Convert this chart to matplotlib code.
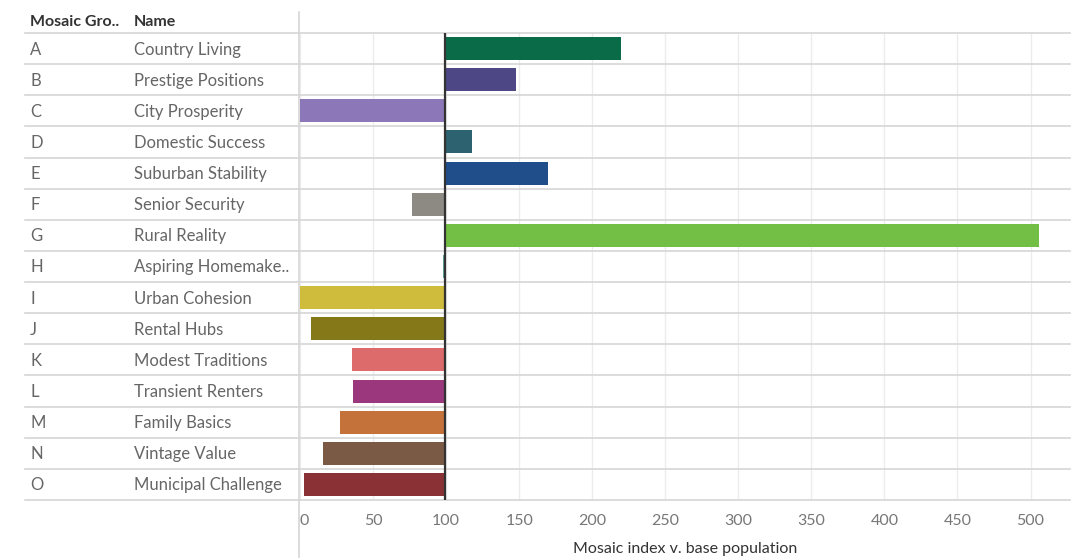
import matplotlib.pyplot as plt
from matplotlib.lines import Line2D
import matplotlib.transforms as mtransforms

# data
groups = ['A', 'B', 'C', 'D', 'E', 'F', 'G', 'H', 'I', 'J', 'K', 'L', 'M', 'N', 'O']
names = ['Country Living', 'Prestige Positions', 'City Prosperity', 'Domestic Success',
         'Suburban Stability', 'Senior Security', 'Rural Reality', 'Aspiring Homemake..',
         'Urban Cohesion', 'Rental Hubs', 'Modest Traditions', 'Transient Renters',
         'Family Basics', 'Vintage Value', 'Municipal Challenge']
index_values = [220, 147.5, 0.3, 117.5, 170, 76.5, 505.5, 97.6, 0.3, 7.3, 35.4, 36, 27.1, 15.5, 2.7]
colors = ['#0a6b48', '#4e4785', '#8c77b8', '#2d6270', '#1f4e8a', '#8c8a82', '#73bf45', '#5fa8a0',
          '#cfbc3c', '#857819', '#dd6b6b', '#9b387d', '#c47239', '#7a5a44', '#8a3136']
ticks = [0, 50, 100, 150, 200, 250, 300, 350, 400, 450, 500]
baseline = 100

plt.rcParams['font.family'] = ['Lato', 'DejaVu Sans']

W, H = 1078, 558
fig = plt.figure(figsize=(W / 100, H / 100), dpi=100)
ax_l, ax_r, ax_t, ax_b = 300, 1070, 33, 500
ax = fig.add_axes([ax_l / W, 1 - ax_b / H, (ax_r - ax_l) / W, (ax_b - ax_t) / H])

n = len(groups)
ypos = list(range(n))
widths = [v - baseline for v in index_values]
ax.barh(ypos, widths, left=baseline, height=0.74, color=colors, zorder=3)

ax.set_xlim(0, 527)
ax.set_ylim(n - 0.5, -0.5)

# gridlines
for t in ticks:
    ax.axvline(t, color='#ececec', lw=1, zorder=1)
ax.axvline(baseline - 0.6, color='#333333', lw=1.6, zorder=4)

# row separators extend into the label columns
trans = mtransforms.blended_transform_factory(ax.transAxes, ax.transData)
left_ext = (25 - ax_l) / (ax_r - ax_l)
for i in range(n + 1):
    ax.plot([left_ext, 1], [i - 0.5, i - 0.5], color='#d6d6d6', lw=1.2,
            transform=trans, clip_on=False, zorder=2)

for s in ax.spines.values():
    s.set_visible(False)
ax.set_yticks([])
ax.set_xticks(ticks)
ax.set_xticklabels([str(t) for t in ticks], color='#777777', fontsize=11.5)
ax.get_xticklabels()[0].set_horizontalalignment('left')
ax.tick_params(axis='x', length=0, pad=10)
ax.set_xlabel('Mosaic index v. base population', color='#333333', fontsize=11.5, labelpad=10)

# label columns
ltrans = mtransforms.blended_transform_factory(fig.transFigure, ax.transData)
for i in range(n):
    ax.text(30 / W, i + 0.03, groups[i], transform=ltrans, va='center', ha='left',
            fontsize=12, color='#666666')
    ax.text(134 / W, i + 0.03, names[i], transform=ltrans, va='center', ha='left',
            fontsize=12, color='#666666')

fig.text(30 / W, 1 - 22 / H, 'Mosaic Gro..', fontsize=11.5, color='#333333',
         fontweight='bold', va='center', ha='left')
fig.text(134 / W, 1 - 22 / H, 'Name', fontsize=11.5, color='#333333',
         fontweight='bold', va='center', ha='left')

# vertical divider between header columns and the chart
fig.add_artist(Line2D([299 / W, 299 / W], [0, 1 - 12 / H], color='#d6d6d6', lw=1.2))

fig.savefig('out.png', dpi=100)
